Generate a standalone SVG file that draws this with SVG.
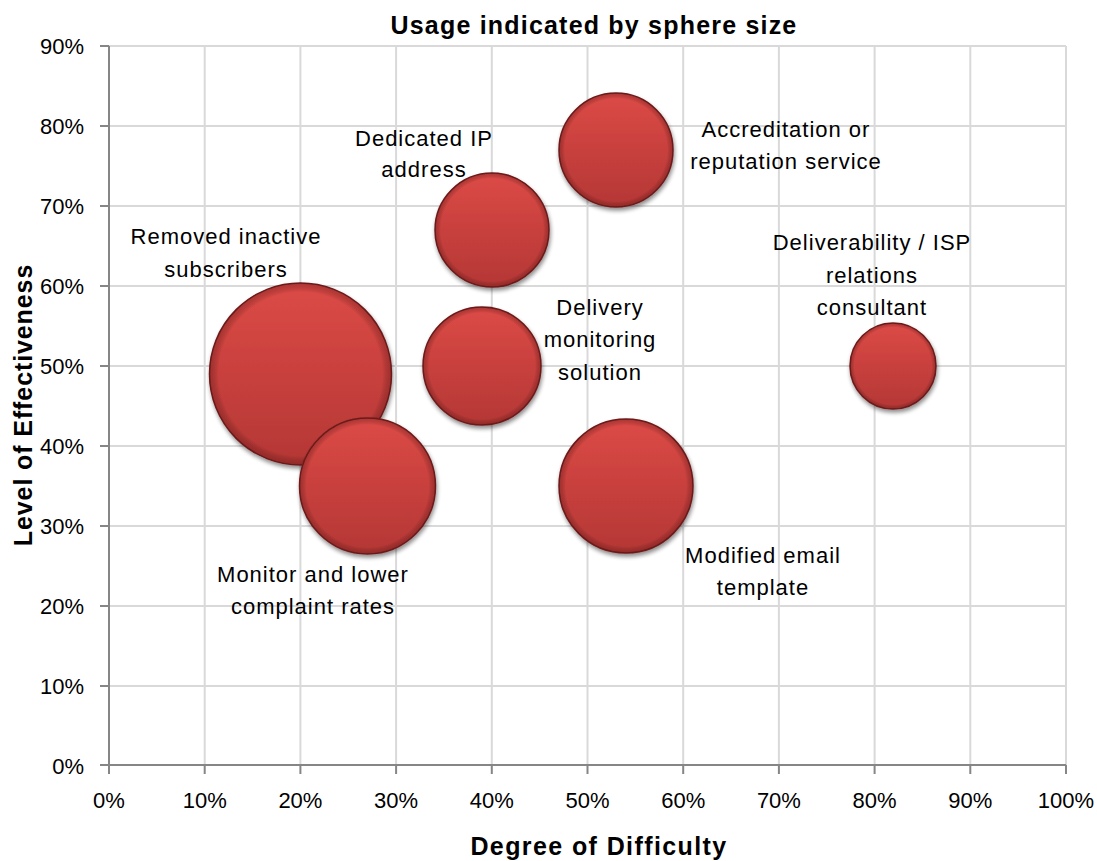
<svg xmlns="http://www.w3.org/2000/svg" width="1097" height="861" viewBox="0 0 1097 861">
<style>
.grid{stroke:#d9d9d9;stroke-width:2;fill:none}
.axis{stroke:#868686;stroke-width:2;fill:none}
.tick{font-family:"Liberation Sans",Arial,sans-serif;font-size:22px;fill:#000}
.lbl{font-family:"Liberation Sans",Arial,sans-serif;font-size:22px;letter-spacing:1px;fill:#000;text-anchor:middle}
.ttl{font-family:"Liberation Sans",Arial,sans-serif;font-weight:bold;fill:#000;text-anchor:middle}
.ball{fill:url(#g);stroke:#6e1c1c;stroke-width:1.5;filter:url(#sh)}
.rim{fill:url(#rim)}
</style>
<defs>
<linearGradient id="g" x1="0" y1="0" x2="0" y2="1">
<stop offset="0" stop-color="#dc4a46"/>
<stop offset="1" stop-color="#b43735"/>
</linearGradient>
<radialGradient id="rim" cx="0.5" cy="0.5" r="0.5">
<stop offset="0.9" stop-color="#000" stop-opacity="0"/>
<stop offset="1" stop-color="#5a1010" stop-opacity="0.35"/>
</radialGradient>
<filter id="sh" x="-20%" y="-20%" width="140%" height="140%">
<feGaussianBlur in="SourceAlpha" stdDeviation="2"/>
<feOffset dx="1" dy="3" result="b"/>
<feComponentTransfer><feFuncA type="linear" slope="0.45"/></feComponentTransfer>
<feMerge><feMergeNode/><feMergeNode in="SourceGraphic"/></feMerge>
</filter>
</defs>
<rect width="1097" height="861" fill="#fff"/>
<g id="gridlines">
<path class="grid" d="M109 46H1066M109 126H1066M109 206H1066M109 286H1066M109 366H1066M109 446H1066M109 526H1066M109 606H1066M109 686H1066"/>
<path class="grid" d="M204.7 46V765M300.4 46V765M396.1 46V765M491.8 46V765M587.5 46V765M683.2 46V765M778.9 46V765M874.6 46V765M970.3 46V765M1066 46V765"/>
</g>
<g id="axes">
<path class="axis" d="M109 46V765H1066"/>
<path class="axis" d="M100 46H109M100 126H109M100 206H109M100 286H109M100 366H109M100 446H109M100 526H109M100 606H109M100 686H109M100 765H109"/>
<path class="axis" d="M109 765V774M204.7 765V774M300.4 765V774M396.1 765V774M491.8 765V774M587.5 765V774M683.2 765V774M778.9 765V774M874.6 765V774M970.3 765V774M1066 765V774"/>
</g>
<g id="ytick" class="tick" text-anchor="end">
<text x="84" y="54">90%</text>
<text x="84" y="134">80%</text>
<text x="84" y="214">70%</text>
<text x="84" y="294">60%</text>
<text x="84" y="374">50%</text>
<text x="84" y="454">40%</text>
<text x="84" y="534">30%</text>
<text x="84" y="614">20%</text>
<text x="84" y="694">10%</text>
<text x="84" y="774">0%</text>
</g>
<g id="xtick" class="tick" text-anchor="middle">
<text x="109" y="808">0%</text>
<text x="204.7" y="808">10%</text>
<text x="300.4" y="808">20%</text>
<text x="396.1" y="808">30%</text>
<text x="491.8" y="808">40%</text>
<text x="587.5" y="808">50%</text>
<text x="683.2" y="808">60%</text>
<text x="778.9" y="808">70%</text>
<text x="874.6" y="808">80%</text>
<text x="970.3" y="808">90%</text>
<text x="1066" y="808">100%</text>
</g>
<text class="ttl" x="594" y="34" font-size="25" letter-spacing="1.2">Usage indicated by sphere size</text>
<text class="ttl" x="599" y="855" font-size="25" letter-spacing="1.4">Degree of Difficulty</text>
<text class="ttl" x="0" y="0" font-size="25" letter-spacing="0.9" transform="translate(32 405) rotate(-90)">Level of Effectiveness</text>
<g id="removed-inactive">
<circle class="ball" cx="300.5" cy="374" r="91"/>
<circle class="rim" cx="300.5" cy="374" r="91"/>
<text class="lbl" x="226" y="244">Removed inactive</text>
<text class="lbl" x="226" y="277">subscribers</text>
</g>
<g id="monitor-complaint">
<circle class="ball" cx="367.5" cy="486" r="68"/>
<circle class="rim" cx="367.5" cy="486" r="68"/>
<text class="lbl" x="313" y="582">Monitor and lower</text>
<text class="lbl" x="313" y="614">complaint rates</text>
</g>
<g id="delivery-monitoring">
<circle class="ball" cx="482" cy="366" r="59"/>
<circle class="rim" cx="482" cy="366" r="59"/>
<text class="lbl" x="600" y="315">Delivery</text>
<text class="lbl" x="600" y="347">monitoring</text>
<text class="lbl" x="600" y="380">solution</text>
</g>
<g id="dedicated-ip">
<circle class="ball" cx="492" cy="230" r="57"/>
<circle class="rim" cx="492" cy="230" r="57"/>
<text class="lbl" x="424" y="146">Dedicated IP</text>
<text class="lbl" x="424" y="177">address</text>
</g>
<g id="accreditation">
<circle class="ball" cx="616" cy="150" r="57"/>
<circle class="rim" cx="616" cy="150" r="57"/>
<text class="lbl" x="786" y="137">Accreditation or</text>
<text class="lbl" x="786" y="169">reputation service</text>
</g>
<g id="modified-email">
<circle class="ball" cx="626" cy="486" r="67"/>
<circle class="rim" cx="626" cy="486" r="67"/>
<text class="lbl" x="763" y="563">Modified email</text>
<text class="lbl" x="763" y="595">template</text>
</g>
<g id="deliverability">
<circle class="ball" cx="893" cy="366" r="43"/>
<circle class="rim" cx="893" cy="366" r="43"/>
<text class="lbl" x="872" y="250">Deliverability / ISP</text>
<text class="lbl" x="872" y="283">relations</text>
<text class="lbl" x="872" y="315">consultant</text>
</g>
</svg>
